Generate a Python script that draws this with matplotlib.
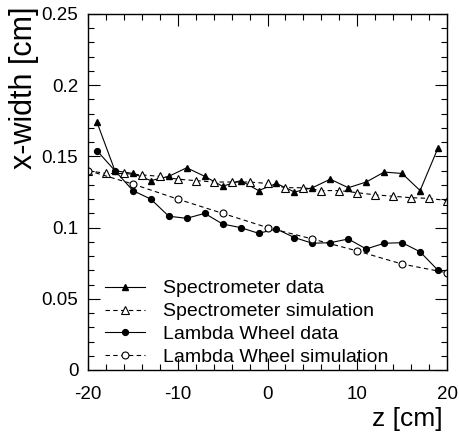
import matplotlib.pyplot as plt
from matplotlib.ticker import MultipleLocator

plt.rcParams['font.family'] = ['Liberation Sans', 'DejaVu Sans']

# spectrometer data (odd z) and simulation (even z)
z_data = [-19, -17, -15, -13, -11, -9, -7, -5, -3, -1, 1, 3, 5, 7, 9, 11, 13, 15, 17, 19]
spec_data = [0.174, 0.140, 0.138, 0.133, 0.136, 0.142, 0.136, 0.129, 0.133, 0.126,
             0.131, 0.125, 0.128, 0.134, 0.128, 0.132, 0.139, 0.138, 0.126, 0.156]
z_spec_sim = [-20, -18, -16, -14, -12, -10, -8, -6, -4, -2, 0, 2, 4, 6, 8, 10, 12, 14, 16, 18, 20]
spec_sim = [0.140, 0.138, 0.138, 0.137, 0.136, 0.134, 0.133, 0.132, 0.132, 0.132, 0.131,
            0.128, 0.128, 0.126, 0.126, 0.1245, 0.123, 0.122, 0.121, 0.1205, 0.119]

# lambda wheel data and simulation
lw_data = [0.154, 0.140, 0.126, 0.120, 0.108, 0.1065, 0.110, 0.1025, 0.100, 0.096,
           0.099, 0.093, 0.089, 0.0894, 0.092, 0.085, 0.089, 0.0894, 0.083, 0.070]
z_lw_sim = [-20, -15, -10, -5, 0, 5, 10, 15, 20]
lw_sim = [0.140, 0.1306, 0.120, 0.110, 0.100, 0.092, 0.0836, 0.0744, 0.0683]

fig = plt.figure(figsize=(4.59, 4.33), dpi=100)
ax = fig.add_axes([0.1917, 0.1455, 0.7822, 0.8222])

lw = 0.8
ax.plot(z_data, spec_data, '-', color='black', lw=lw, marker='^', ms=4.5,
        label='Spectrometer data')
ax.plot(z_spec_sim, spec_sim, '--', color='black', lw=lw, dashes=(4, 3), marker='^', ms=5.5,
        mfc='white', mew=0.8, label='Spectrometer simulation')
ax.plot(z_data, lw_data, '-', color='black', lw=lw, marker='o', ms=4.2,
        label='Lambda Wheel data')
ax.plot(z_lw_sim, lw_sim, '--', color='black', lw=lw, dashes=(4, 3), marker='o', ms=5,
        mfc='white', mew=0.8, label='Lambda Wheel simulation')

ax.set_xlim(-20, 20)
ax.set_ylim(0, 0.25)
ax.xaxis.set_minor_locator(MultipleLocator(2))
ax.yaxis.set_minor_locator(MultipleLocator(0.01))
ax.set_xticks([-20, -10, 0, 10, 20], ['-20', '-10', '0', '10', '20'])
ax.set_yticks([0, 0.05, 0.1, 0.15, 0.2, 0.25], ['0', '0.05', '0.1', '0.15', '0.2', '0.25'])

ax.tick_params(which='both', direction='in', top=True, right=True, width=0.8, labelsize=13.5)
ax.tick_params(which='major', length=8.5)
ax.tick_params(which='minor', length=4.3)
ax.tick_params(axis='x', pad=11.5)
ax.tick_params(axis='y', pad=7)
for s in ax.spines.values():
    s.set_linewidth(1.0)

ax.set_ylabel('x-width [cm]', fontsize=22, loc='top')
ax.yaxis.set_label_coords(-0.136, 1.02)
ax.set_xlabel('z [cm]', fontsize=19, loc='right')
ax.xaxis.set_label_coords(0.989, -0.105)

ax.legend(loc='lower left', bbox_to_anchor=(0.047, 0.011), frameon=False, fontsize=14,
          handlelength=2.06, handletextpad=0.93, labelspacing=0.27,
          borderpad=0, borderaxespad=0)

fig.savefig('out.png', dpi=100)
plt.close(fig)
